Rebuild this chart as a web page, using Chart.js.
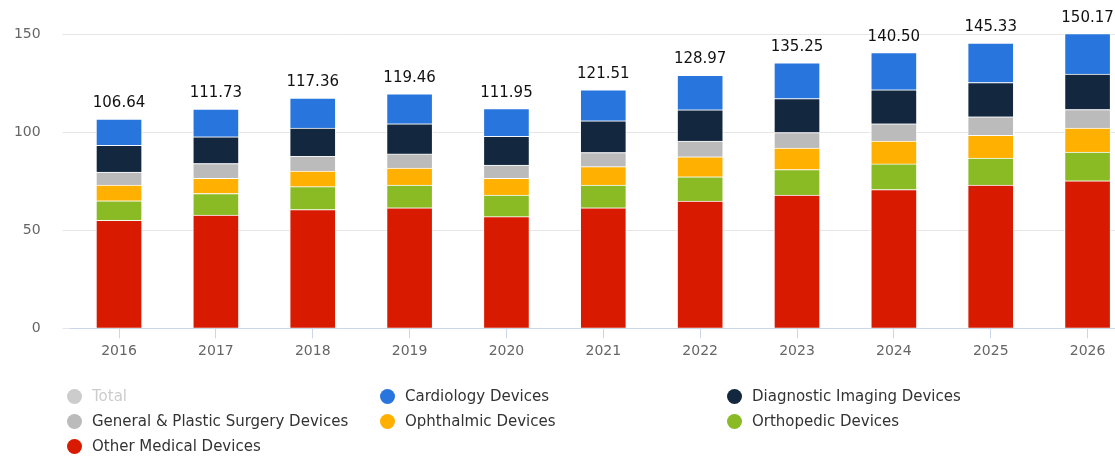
<!DOCTYPE html>
<html>
<head>
<meta charset="utf-8">
<script src="https://cdn.jsdelivr.net/npm/chart.js@4/dist/chart.umd.min.js"></script>
<style>
  html, body { margin: 0; padding: 0; background: #fff; overflow: hidden; }
  #wrap { position: relative; width: 1136px; height: 456px; }
  #legend { position: absolute; left: 0; top: 387px; width: 1115px; font-family: "DejaVu Sans", sans-serif; font-size: 15px; color: #333; }
  .item { position: absolute; white-space: nowrap; line-height: 18px; }
  .dot { position: absolute; width: 15px; height: 15px; border-radius: 50%; top: 2px; }
  .txt { position: absolute; left: 0; top: 0; }
</style>
</head>
<body>
<div id="wrap">
  <canvas id="c" width="1136" height="456"></canvas>
  <div id="legend"></div>
</div>
<script>
var years = ['2016', '2017', '2018', '2019', '2020', '2021', '2022', '2023', '2024', '2025', '2026']
var total      = [106.64, 111.73, 117.36, 119.46, 111.95, 121.51, 128.97, 135.25, 140.50, 145.33, 150.17]
var cardiology = [13.44, 14.13, 15.36, 15.26, 14.15, 15.71, 17.57, 18.15, 18.90, 20.03, 20.57]
var diagnostic = [13.6, 13.6, 14.4, 15.3, 14.6, 16.2, 16.0, 17.3, 17.4, 17.5, 18.1]
var general    = [6.6, 7.5, 7.5, 7.3, 6.7, 7.2, 8.0, 8.0, 8.8, 9.5, 9.5]
var ophthalmic = [8.0, 7.8, 7.9, 8.6, 8.6, 9.4, 10.2, 10.9, 11.6, 11.6, 12.2]
var orthopedic = [10.0, 11.0, 11.7, 11.6, 11.0, 11.6, 12.3, 13.0, 13.1, 13.7, 14.6]
var other      = [55.0, 57.7, 60.5, 61.4, 56.9, 61.4, 64.9, 67.9, 70.7, 73.0, 75.2]
var yTicks = [0, 50, 100, 150]

var font = '"DejaVu Sans", sans-serif'

function seg(label, data, color) {
  return {
    label: label, data: data, backgroundColor: color,
    borderColor: 'rgba(255,255,255,0.85)', borderWidth: 1, borderSkipped: 'start',
    stack: 'a', barThickness: 46, clip: false
  }
}

// bottom to top
var datasets = [
  seg('Other Medical Devices', other, '#d81b00'),
  seg('Orthopedic Devices', orthopedic, '#8abb25'),
  seg('Ophthalmic Devices', ophthalmic, '#ffb000'),
  seg('General & Plastic Surgery Devices', general, '#bbbbbb'),
  seg('Diagnostic Imaging Devices', diagnostic, '#13283f'),
  seg('Cardiology Devices', cardiology, '#2876dd'),
  { label: 'Total', data: total, backgroundColor: '#cccccc', hidden: true, stack: 'total', barThickness: 46 }
]

// total labels above each stack
var totalLabels = {
  id: 'totalLabels',
  afterDatasetsDraw: function(chart) {
    var ctx = chart.ctx
    var top = chart.getDatasetMeta(5)
    ctx.save()
    ctx.font = '15px ' + font
    ctx.fillStyle = '#111'
    ctx.textAlign = 'center'
    ctx.textBaseline = 'alphabetic'
    top.data.forEach(function(bar, i) {
      ctx.fillText(total[i].toFixed(2), bar.x, bar.y - 12)
    })
    ctx.restore()
  }
}

var chart = new Chart(document.getElementById('c'), {
  type: 'bar',
  data: { labels: years, datasets: datasets },
  options: {
    responsive: false,
    animation: false,
    layout: { padding: { top: 34, right: 0, left: 0, bottom: 0 } },
    plugins: { legend: { display: false }, tooltip: { enabled: false } },
    scales: {
      x: {
        stacked: true,
        grid: { drawOnChartArea: false, offset: false, tickLength: 10, color: '#ccd6eb' },
        border: { color: '#ccd6eb' },
        ticks: { color: '#666', font: { family: font, size: 14 }, padding: 5, maxRotation: 0 },
        afterFit: function(s) { s.height = 127.7 }
      },
      y: {
        stacked: true,
        min: 0, max: 150,
        afterBuildTicks: function(s) { s.ticks = yTicks.map(function(v) { return { value: v } }) },
        grid: { color: '#e6e6e6', tickLength: 8 },
        border: { display: false },
        ticks: { color: '#666', font: { family: font, size: 14 }, padding: 22 },
        afterFit: function(s) { s.width = 70.6 }
      }
    }
  },
  plugins: [totalLabels]
})

// legend in three columns, same order as the source
var legendOrder = [6, 5, 4, 3, 2, 1, 0]
var colX = [67, 380, 727]
var rowY = [0, 25, 50]
var lg = document.getElementById('legend')
legendOrder.forEach(function(di, k) {
  var ds = chart.data.datasets[di]
  var el = document.createElement('div')
  el.className = 'item'
  el.style.left = colX[k % 3] + 'px'
  el.style.top = rowY[Math.floor(k / 3)] + 'px'
  var dot = document.createElement('span')
  dot.className = 'dot'
  dot.style.left = '0px'
  dot.style.background = ds.hidden ? '#cccccc' : ds.backgroundColor
  var tx = document.createElement('span')
  tx.className = 'txt'
  tx.style.left = '25px'
  tx.style.color = ds.hidden ? '#cccccc' : '#333'
  tx.textContent = ds.label
  el.appendChild(dot)
  el.appendChild(tx)
  lg.appendChild(el)
})
</script>
</body>
</html>
